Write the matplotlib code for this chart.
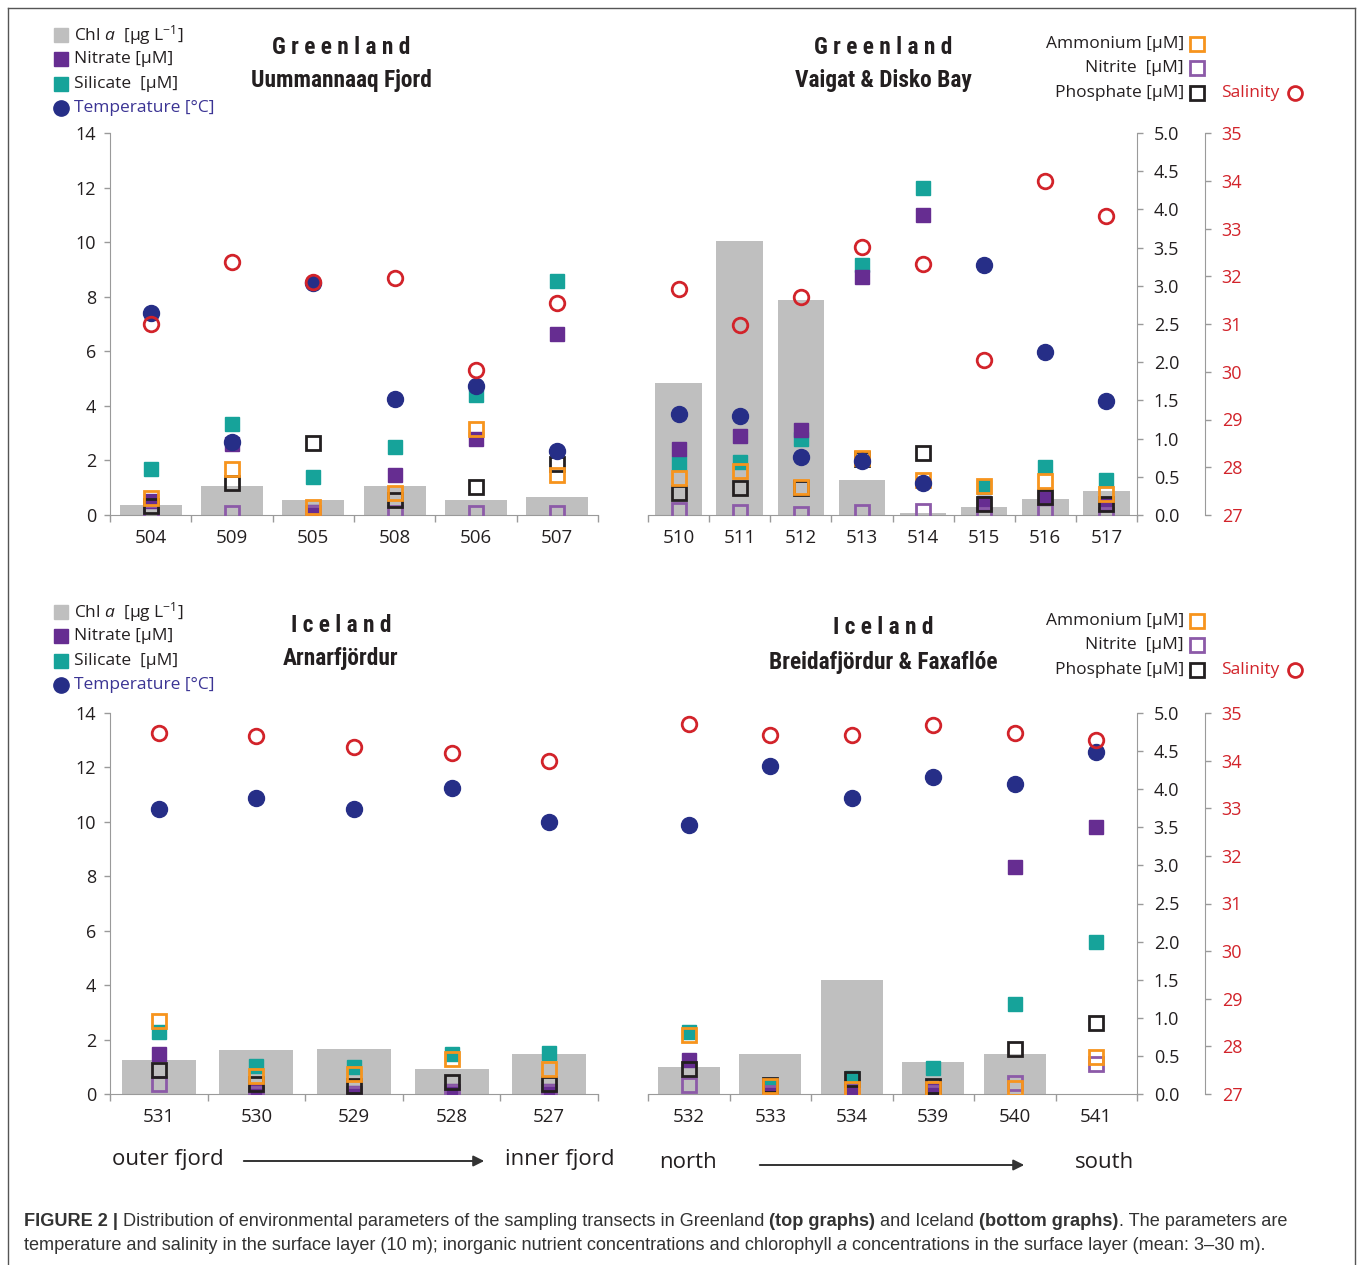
import numpy as np
import matplotlib
matplotlib.use('Agg')
import matplotlib.pyplot as plt
from matplotlib.lines import Line2D
from matplotlib.patches import FancyArrowPatch
from matplotlib.ticker import FormatStrFormatter

plt.rcParams['font.family'] = ['Open Sans', 'DejaVu Sans']
plt.rcParams['mathtext.fontset'] = 'custom'
plt.rcParams['mathtext.rm'] = 'Open Sans'
plt.rcParams['mathtext.it'] = 'Open Sans:italic'

W, H = 1358, 1265

# --- Greenland, Uummannaq Fjord
uum_st = ['504', '509', '505', '508', '506', '507']
uum_chl = [0.13, 0.385, 0.20, 0.385, 0.20, 0.23]
uum_nitrate = [0.53, 2.61, 0.10, 1.45, 2.79, 6.65]
uum_silicate = [1.69, 3.34, 1.41, 2.51, 4.38, 8.57]
uum_temp = [7.42, 2.67, 8.49, 4.24, 4.73, 2.36]
uum_ammonium = [0.22, 0.60, 0.11, 0.29, 1.13, 0.52]
uum_nitrite = [0.02, 0.02, 0.02, 0.02, 0.02, 0.02]
uum_phosphate = [0.12, 0.42, 0.945, 0.19, 0.36, 0.67]
uum_salinity = [31.01, 32.29, 31.88, 31.97, 30.03, 31.43]

# --- Greenland, Vaigat & Disko Bay
vai_st = ['510', '511', '512', '513', '514', '515', '516', '517']
vai_chl = [1.73, 3.59, 2.81, 0.455, 0.02, 0.11, 0.21, 0.315]
vai_nitrate = [2.42, 2.88, 3.13, 8.72, 10.99, 0.45, 0.64, 0.39]
vai_silicate = [1.90, 1.95, 2.80, 9.16, 11.98, 1.03, 1.77, 1.29]
vai_temp = [3.71, 3.64, 2.12, 1.99, 1.19, 9.18, 5.97, 4.17]
vai_ammonium = [0.49, 0.57, 0.36, 0.75, 0.455, 0.38, 0.44, 0.28]
vai_nitrite = [0.07, 0.04, 0.01, 0.04, 0.05, 0.0, 0.05, 0.0]
vai_phosphate = [0.29, 0.35, 0.35, 0.73, 0.81, 0.14, 0.23, 0.14]
vai_salinity = [31.74, 30.98, 31.57, 32.62, 32.25, 30.24, 34.0, 33.27]

# --- Iceland, Arnarfjördur
arn_st = ['531', '530', '529', '528', '527']
arn_chl = [0.44, 0.58, 0.59, 0.33, 0.53]
arn_nitrate = [1.47, 0.10, 0.05, 0.10, 0.10]
arn_silicate = [2.27, 1.04, 0.98, 1.47, 1.51]
arn_temp = [10.46, 10.89, 10.46, 11.24, 10.01]
arn_ammonium = [0.96, 0.24, 0.26, 0.46, 0.33]
arn_nitrite = [0.13, 0.0, 0.0, 0.02, 0.02]
arn_phosphate = [0.32, 0.13, 0.11, 0.16, 0.13]
arn_salinity = [34.58, 34.51, 34.28, 34.16, 34.0]

# --- Iceland, Breidafjördur & Faxaflóe
bre_st = ['532', '533', '534', '539', '540', '541']
bre_chl = [0.35, 0.53, 1.50, 0.42, 0.53, np.nan]
bre_nitrate = [1.25, 0.02, 0.10, 0.15, 8.34, 9.81]
bre_silicate = [2.29, 0.27, 0.58, 0.94, 3.31, 5.60]
bre_temp = [9.89, 12.04, 10.88, 11.66, 11.39, 12.55]
bre_ammonium = [0.77, 0.10, 0.07, 0.07, 0.08, 0.49]
bre_nitrite = [0.12, 0.01, 0.03, 0.01, 0.14, 0.40]
bre_phosphate = [0.33, 0.12, 0.20, 0.10, 0.59, 0.93]
bre_salinity = [34.77, 34.54, 34.54, 34.74, 34.58, 34.44]

GRAY = '#bfbfbf'
NIT = '#662d91'
SIL = '#16a39a'
TEMP = '#262e87'
SAL = '#d2232a'
AMM = '#f7941d'
NITR = '#8c5aa8'
PHO = '#231f20'
TXT = '#231f20'
AXC = '#9a9a9a'

fig = plt.figure(figsize=(W / 100, H / 100), dpi=100)


def panel(x0, x1, ytop, ybot, st, chl, nit, sil, temp, amm, nitr, pho, sal, left, right):
    ax = fig.add_axes([x0 / W, 1 - ybot / H, (x1 - x0) / W, (ybot - ytop) / H])
    axr = ax.twinx()
    axs = ax.twinx()
    n = len(st)
    x = np.arange(n)
    ax.set_xlim(-0.5, n - 0.5)
    ax.set_ylim(0, 14)
    axr.set_ylim(0, 5)
    axs.set_ylim(27, 35)
    for a in (ax, axr, axs):
        for sp in a.spines.values():
            sp.set_visible(False)
            sp.set_color(AXC)
        a.patch.set_visible(False)
    ax.spines['bottom'].set_visible(True)
    ax.set_xticks(x)
    ax.set_xticklabels(st)
    ax.set_xticks(np.arange(n + 1) - 0.5, minor=True)
    ax.tick_params(axis='x', which='major', length=0, pad=10, labelsize=13.5, labelcolor=TXT)
    ax.tick_params(axis='x', which='minor', length=5, width=1, color=AXC, direction='out')
    if left:
        ax.spines['left'].set_visible(True)
        ax.set_yticks(range(0, 15, 2))
        ax.tick_params(axis='y', length=4, width=1, color=AXC, pad=6, labelsize=13, labelcolor=TXT)
    else:
        ax.tick_params(axis='y', left=False, labelleft=False)
    if right:
        axr.spines['right'].set_visible(True)
        axr.set_yticks(np.arange(0, 5.01, 0.5))
        axr.yaxis.set_major_formatter(FormatStrFormatter('%.1f'))
        axr.tick_params(axis='y', length=4, width=1, color=AXC, pad=8, labelsize=13, labelcolor=TXT)
        axs.spines['right'].set_visible(True)
        axs.spines['right'].set_position(('outward', 49))
        axs.set_yticks(range(27, 36))
        axs.tick_params(axis='y', length=4, width=1, color=AXC, pad=8, labelsize=13, labelcolor=SAL)
    else:
        axr.tick_params(axis='y', right=False, labelright=False)
        axs.tick_params(axis='y', right=False, labelright=False)

    # everything drawn in the host axes, each series through its own scale
    ax.bar(x, chl, width=0.76, color=GRAY, transform=axr.transData, zorder=1)
    ax.plot(x, sil, ls='none', marker='s', ms=10.5, color=SIL, zorder=2)
    ax.plot(x, nit, ls='none', marker='s', ms=10.5, color=NIT, zorder=3)
    ax.plot(x, nitr, ls='none', marker='s', ms=10.5, mfc='none', mec=NITR, mew=2,
            transform=axr.transData, zorder=4)
    ax.plot(x, pho, ls='none', marker='s', ms=10.5, mfc='none', mec=PHO, mew=2,
            transform=axr.transData, zorder=5)
    ax.plot(x, amm, ls='none', marker='s', ms=10.5, mfc='none', mec=AMM, mew=2,
            transform=axr.transData, zorder=6)
    ax.plot(x, temp, ls='none', marker='o', ms=11.5, color=TEMP, zorder=7)
    ax.plot(x, sal, ls='none', marker='o', ms=10.5, mfc='none', mec=SAL, mew=2,
            transform=axs.transData, zorder=8)
    return ax


panel(110, 598, 133, 515, uum_st, uum_chl, uum_nitrate, uum_silicate, uum_temp,
      uum_ammonium, uum_nitrite, uum_phosphate, uum_salinity, True, False)
panel(648, 1137, 133, 515, vai_st, vai_chl, vai_nitrate, vai_silicate, vai_temp,
      vai_ammonium, vai_nitrite, vai_phosphate, vai_salinity, False, True)
panel(110, 598, 713, 1094, arn_st, arn_chl, arn_nitrate, arn_silicate, arn_temp,
      arn_ammonium, arn_nitrite, arn_phosphate, arn_salinity, True, False)
panel(648, 1137, 713, 1094, bre_st, bre_chl, bre_nitrate, bre_silicate, bre_temp,
      bre_ammonium, bre_nitrite, bre_phosphate, bre_salinity, False, True)


def P(x, y):
    return x / W, 1 - y / H


def mark(x, y, **kw):
    fx, fy = P(x, y)
    fig.add_artist(Line2D([fx], [fy], transform=fig.transFigure, ls='none', **kw))


def label(x, y, s, **kw):
    fx, fy = P(x, y)
    kw.setdefault('fontsize', 12.5)
    kw.setdefault('color', TXT)
    fig.text(fx, fy, s, va='center', **kw)


TITLE_FONT = ['Roboto Condensed', 'Lato', 'DejaVu Sans']

for dy in (0, 577):
    # left legend
    mark(61, 35 + dy, marker='s', ms=10.5, color=GRAY)
    label(74, 35 + dy, r'Chl $a$  [µg L$^{-1}$]')
    mark(61, 59 + dy, marker='s', ms=10.5, color=NIT)
    label(74, 59 + dy, 'Nitrate [µM]')
    mark(61, 84 + dy, marker='s', ms=10.5, color=SIL)
    label(74, 84 + dy, 'Silicate  [µM]')
    mark(61, 108 + dy, marker='o', ms=11, color=TEMP)
    label(74, 108 + dy, 'Temperature [°C]', color='#3b3494')
    # right legend
    label(1184, 44 + dy, 'Ammonium [µM]', ha='right')
    mark(1197, 44 + dy, marker='s', ms=10, mfc='none', mec=AMM, mew=2)
    label(1184, 68 + dy, 'Nitrite  [µM]', ha='right')
    mark(1197, 68 + dy, marker='s', ms=10, mfc='none', mec=NITR, mew=2)
    label(1184, 93 + dy, 'Phosphate [µM]', ha='right')
    mark(1197, 93 + dy, marker='s', ms=10, mfc='none', mec=PHO, mew=2)
    label(1221, 93 + dy, 'Salinity', color=SAL)
    mark(1295, 93 + dy, marker='o', ms=10, mfc='none', mec=SAL, mew=2)

title_kw = dict(ha='center', family=TITLE_FONT, fontweight='bold', fontsize=16.8)
label(341, 48, ' '.join('Greenland'), **title_kw)
label(341, 80, 'Uummannaaq Fjord', **title_kw)
label(883, 48, ' '.join('Greenland'), **title_kw)
label(883, 80, 'Vaigat & Disko Bay', **title_kw)
label(341, 626, ' '.join('Iceland'), **title_kw)
label(341, 658, 'Arnarfjördur', **title_kw)
label(883, 628, ' '.join('Iceland'), **title_kw)
label(883, 662, 'Breidafjördur & Faxaflóe', **title_kw)

# transect direction
label(168, 1159, 'outer fjord', ha='center', fontsize=16)
label(560, 1159, 'inner fjord', ha='center', fontsize=16)
label(688, 1163, 'north', ha='center', fontsize=16)
label(1105, 1163, 'south', ha='center', fontsize=16)
for xa, xb, ya in ((241, 487, 1161), (757, 1027, 1165)):
    fig.add_artist(FancyArrowPatch(P(xa, ya), P(xb, ya), transform=fig.transFigure,
                                   arrowstyle='-|>', mutation_scale=16, lw=1.4, color='#333333'))

# frame
for xs, ys in (([8, 8], [H, 8]), ([8, 1355], [8, 8]), ([1355, 1355], [8, H])):
    fig.add_artist(Line2D([v / W for v in xs], [1 - v / H for v in ys],
                          transform=fig.transFigure, color='#555555', lw=1))

# caption
CAP = '#333333'
renderer = fig.canvas.get_renderer()


def rich_line(x, y, pieces):
    for s, kw in pieces:
        t = fig.text(x / W, 1 - y / H, s, va='center', ha='left', fontsize=13.1,
                     family=['Liberation Sans', 'DejaVu Sans'], color=CAP, **kw)
        x = t.get_window_extent(renderer).x1


B = dict(fontweight='bold')
N = dict()
rich_line(24, 1221, [('FIGURE 2 |', B),
                     (' Distribution of environmental parameters of the sampling transects in Greenland', N),
                     (' (top graphs)', B), (' and Iceland', N), (' (bottom graphs)', B),
                     ('. The parameters are', N)])
rich_line(24, 1246, [('temperature and salinity in the surface layer (10 m); inorganic nutrient '
                      'concentrations and chlorophyll', N), (' a', dict(fontstyle='italic')),
                     (' concentrations in the surface layer (mean: 3\u201330 m).', N)])

fig.savefig('out.png', dpi=100)
